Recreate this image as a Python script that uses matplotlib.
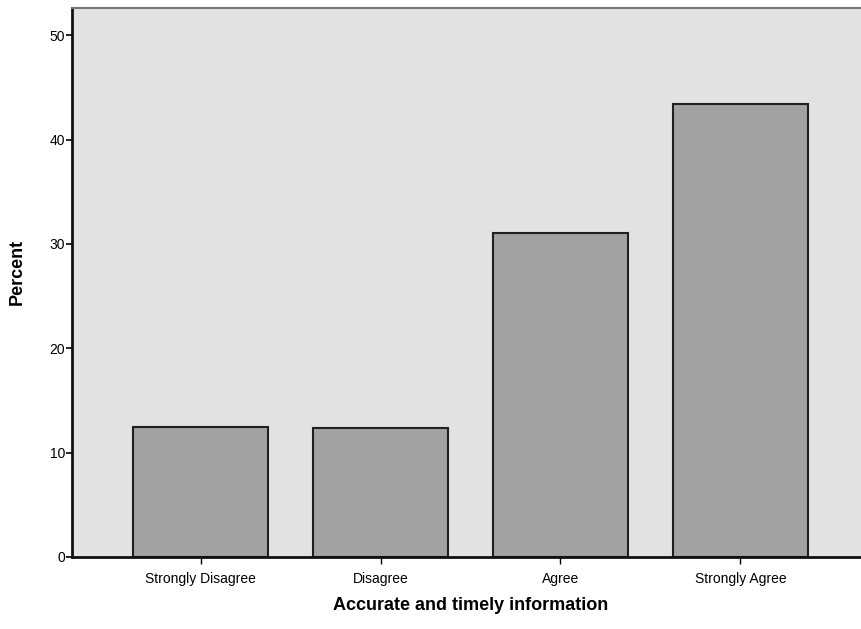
import matplotlib.pyplot as plt

categories = ['Strongly Disagree', 'Disagree', 'Agree', 'Strongly Agree']
percent = [12.5, 12.4, 31.0, 43.4]
y_ticks = [0, 10, 20, 30, 40, 50]

plt.rcParams['font.family'] = ['Liberation Sans', 'DejaVu Sans']

fig = plt.figure(figsize=(8.62, 6.29), dpi=100)
ax = fig.add_axes([72 / 862, 72 / 629, 797 / 862, 549 / 629])

# light grey plot area (the scan shows a dotted grey fill)
ax.set_facecolor('#e2e2e2')

x = list(range(len(categories)))
ax.bar(x, percent, width=0.75, color='#a2a2a2', edgecolor='#202020',
       linewidth=1.5, zorder=2)

ax.set_xlim(-0.714, 3.714)
ax.set_ylim(0, 52.6)
ax.set_yticks(y_ticks)
ax.set_xticks(x)
ax.set_xticklabels(categories, fontsize=10)
ax.tick_params(axis='y', labelsize=10, length=4, width=1.2, pad=1)
ax.tick_params(axis='x', length=5, width=1, pad=6)

for side in ['left', 'bottom']:
    ax.spines[side].set_linewidth(2)
    ax.spines[side].set_color('#111111')
ax.spines['top'].set_color('#777777')
ax.spines['top'].set_linewidth(1.5)
ax.spines['right'].set_visible(False)

ax.set_ylabel('Percent', fontsize=13, fontweight='bold')
ax.yaxis.set_label_coords(-0.058, 0.52)
ax.set_xlabel('Accurate and timely information', fontsize=13, fontweight='bold', labelpad=8)

fig.savefig('out.png', dpi=100)
